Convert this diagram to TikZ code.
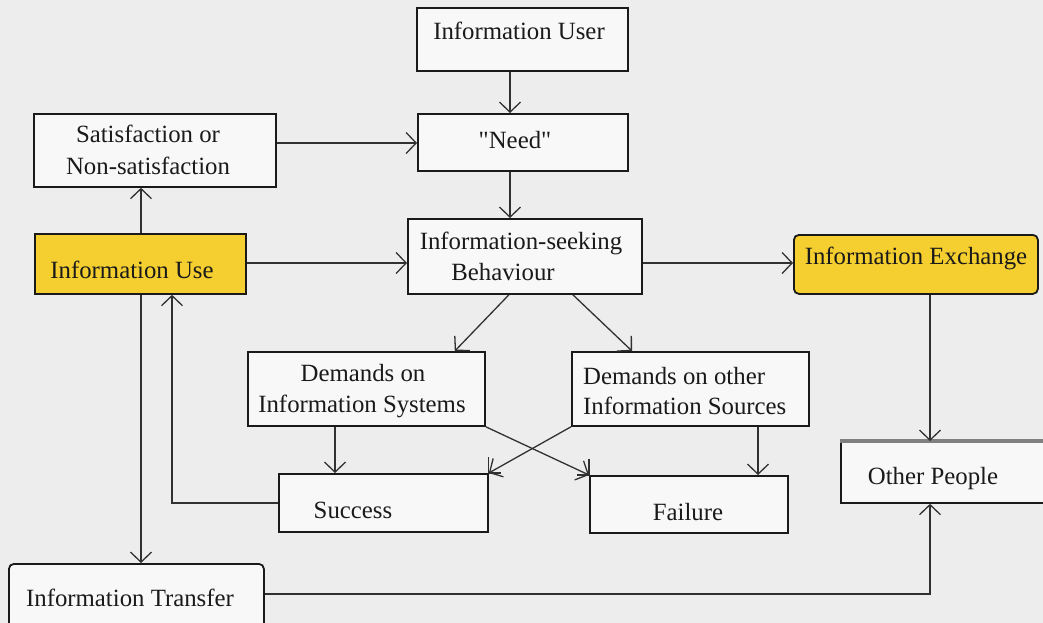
\documentclass[tikz,border=0pt]{standalone}
\usepackage{fontspec}
\setmainfont{Liberation Serif}
\usetikzlibrary{arrows.meta}
\definecolor{paper}{HTML}{EDEDED}
\definecolor{boxfill}{HTML}{F8F8F8}
\definecolor{hilite}{HTML}{F4CF2F}
\definecolor{ink}{HTML}{1A1A1A}
\begin{document}
\begin{tikzpicture}[x=1pt,y=-1pt,
  lbl/.style={inner sep=0pt, text=ink, font=\fontsize{24.8}{32}\selectfont},
  box/.style={draw=ink, line width=1.8pt, fill=boxfill, inner sep=0pt, anchor=north west},
  hibox/.style={box, fill=hilite},
  arr/.style={draw=ink!90, line width=1.3pt, -{Straight Barb[length=10pt,width=21pt]}},
  tick/.style={draw=ink!90, line width=1.3pt}]
  \useasboundingbox (0,0) rectangle (1043,623);
  \fill[paper] (0,0) rectangle (1043,623);
  \clip (0,0) rectangle (1043,623);

  % boxes (placed by their top-left corner)
  \node[box, minimum width=211, minimum height=63] (user) at (416,7) {};
  \node[box, minimum width=210, minimum height=57] (need) at (417,113) {};
  \node[box, minimum width=242, minimum height=73] (sat) at (33,113) {};
  \node[box, minimum width=234, minimum height=75] (seek) at (407,218) {};
  \node[hibox, minimum width=211, minimum height=60] (use) at (34,233) {};
  \node[hibox, rounded corners=5pt, minimum width=244, minimum height=59] (exch) at (793,234) {};
  \node[box, minimum width=237, minimum height=74] (dis) at (247,351) {};
  \node[box, minimum width=237, minimum height=74] (dos) at (571,351) {};
  \node[box, minimum width=209, minimum height=58] (succ) at (278,473) {};
  \node[box, minimum width=198, minimum height=57] (fail) at (589,475) {};
  \node[box, minimum width=215, minimum height=61] (other) at (840,441) {};
  \node[box, rounded corners=5pt, minimum width=255, minimum height=70] (trans) at (8,563) {};
  \draw[gray, line width=4pt] (other.north west) -- (other.north east);

  % labels
  \node[lbl] (userT) at (519,31) {Information User};
  \node[lbl] (needT) at (515,140) {\textquotedbl Need\textquotedbl};
  \node[lbl, align=center] (satT) at (148,150) {Satisfaction or\\Non-satisfaction};
  \node[lbl] (seekT1) at (521,243) {Information-seeking};
  \node[lbl] (seekT2) at (503,272) {Behaviour};
  \node[lbl] (useT) at (132,270) {Information Use};
  \node[lbl] (exchT) at (916,258) {Information Exchange};
  \node[lbl] (disT1) at (363,373) {Demands on};
  \node[lbl] (disT2) at (362,406) {Information Systems};
  \node[lbl, anchor=west] (dosT1) at (583,376) {Demands on other};
  \node[lbl, anchor=west] (dosT2) at (583,406) {Information Sources};
  \node[lbl] (succT) at (353,510) {Success};
  \node[lbl] (failT) at (688,512) {Failure};
  \node[lbl] (otherT) at (933,479) {Other People};
  \node[lbl] (transT) at (130,598) {Information Transfer};

  % columns and rows used by the connectors
  \coordinate (cTrunk) at (510,0);
  \coordinate (cSys) at (335,0);
  \coordinate (cSrc) at (758,0);
  \coordinate (cUp) at (141,0);
  \coordinate (cBack) at (172,0);
  \coordinate (cPeople) at (930,0);
  \coordinate (rSat) at (0,143);
  \coordinate (rMid) at (0,263);
  \coordinate (rLow) at (0,594);

  % connectors
  \draw[arr] (user.south -| cTrunk) -- (need.north -| cTrunk);
  \draw[arr] (need.south -| cTrunk) -- (seek.north -| cTrunk);
  \draw[arr] (sat.east |- rSat) -- (need.west |- rSat);
  \draw[arr] (use.east |- rMid) -- (seek.west |- rMid);
  \draw[arr] (seek.east |- rMid) -- (exch.west |- rMid);
  \draw[arr] ([xshift=-16pt]seek.south) -- ([xshift=-31pt]dis.north east);
  \draw[arr] ([xshift=48pt]seek.south) -- ([xshift=61pt]dos.north west);
  \draw[arr] (dis.south -| cSys) -- (succ.north -| cSys);
  \draw[arr] (dos.south -| cSrc) -- (fail.north -| cSrc);
  \draw[arr] (dis.south east) -- (fail.north west);
  \draw[arr] (dos.south west) -- (succ.north east);
  \draw[tick] ([yshift=16pt]succ.north east) -- (succ.north east) -- ([xshift=12pt]succ.north east);
  \draw[tick] ([yshift=16pt]fail.north west) -- (fail.north west) -- ([xshift=-12pt]fail.north west);
  \draw[arr] (succ.west) -- (succ.west -| cBack) -- (use.south -| cBack);
  \draw[arr] (use.south -| cUp) -- (trans.north -| cUp);
  \draw[arr] (use.north -| cUp) -- (sat.south -| cUp);
  \draw[arr] (trans.east |- rLow) -- (cPeople |- rLow) -- (other.south -| cPeople);
  \draw[arr] (exch.south -| cPeople) -- (other.north -| cPeople);
\end{tikzpicture}
\end{document}
